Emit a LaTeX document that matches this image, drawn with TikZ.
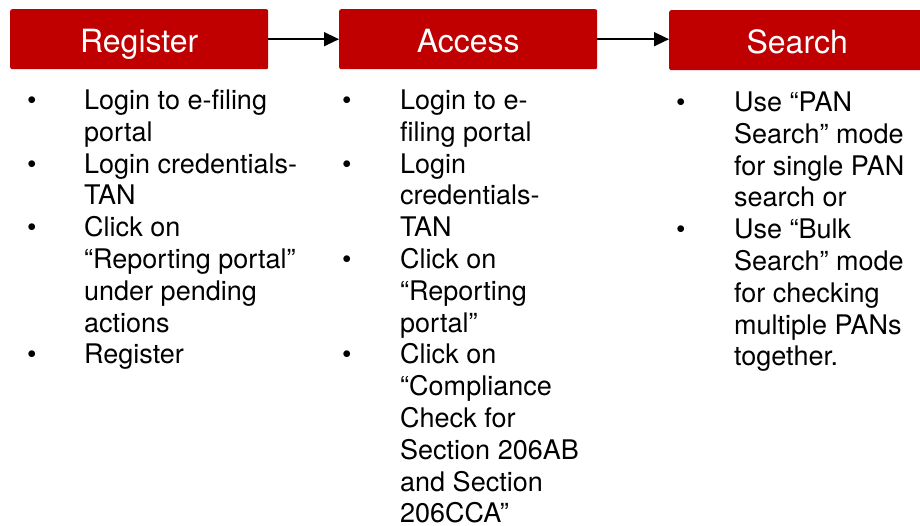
\documentclass[tikz,border=0pt]{standalone}
\usepackage{fontspec}
\setmainfont{TeX Gyre Heros}
\usetikzlibrary{arrows.meta}
\definecolor{boxred}{HTML}{C00000}
\tikzset{
  stepbox/.style={fill=boxred, draw=none, rounded corners=2pt, inner sep=0pt,
    text height=43pt, text depth=17pt, minimum width=258pt, text=white,
    font={\fontsize{32}{38}\selectfont}, anchor=north west},
  txt/.style={inner sep=0pt, anchor=base west, font={\fontsize{27}{32}\selectfont}, text=black},
  flow/.style={line width=1.4pt, -{Triangle[length=15pt,width=14pt]}}
}
\begin{document}
\begin{tikzpicture}[x=1pt,y=-1pt]
\useasboundingbox (0,0) rectangle (920,526);
\node[stepbox] (reg) at (10,9) {Register};
\node[stepbox] (acc) at (339,9) {Access};
\node[stepbox, minimum width=256pt] (sea) at (669,10) {Search};
\draw[flow] (reg.east) -- (acc.west);
\draw[flow] (acc.east) -- (sea.west |- acc.east);
% Register column
\foreach \t [count=\i] in {{Login to e-filing},{portal},{Login credentials-},{TAN},{Click on},{“Reporting portal”},{under pending},{actions},{Register}}
  \node[txt] (r\i) at (84,{109.5+31.8*(\i-1)}) {\t};
\foreach \i in {1,3,5,9}
  \node[txt] (rb\i) at (27,{109.5+31.8*(\i-1)}) {•};
% Access column
\foreach \t [count=\i] in {{Login to e-},{filing portal},{Login},{credentials-},{TAN},{Click on},{“Reporting},{portal”},{Click on},{“Compliance},{Check for},{Section 206AB},{and Section},{206CCA”}}
  \node[txt] (a\i) at (400,{109.5+31.8*(\i-1)}) {\t};
\foreach \i in {1,3,6,9}
  \node[txt] (ab\i) at (342,{109.5+31.8*(\i-1)}) {•};
% Search column
\foreach \t [count=\i] in {{Use “PAN},{Search” mode},{for single PAN},{search or},{Use “Bulk},{Search” mode},{for checking},{multiple PANs},{together.}}
  \node[txt] (s\i) at (734,{111.5+31.8*(\i-1)}) {\t};
\foreach \i in {1,5}
  \node[txt] (sb\i) at (676,{111.5+31.8*(\i-1)}) {•};
\end{tikzpicture}
\end{document}
